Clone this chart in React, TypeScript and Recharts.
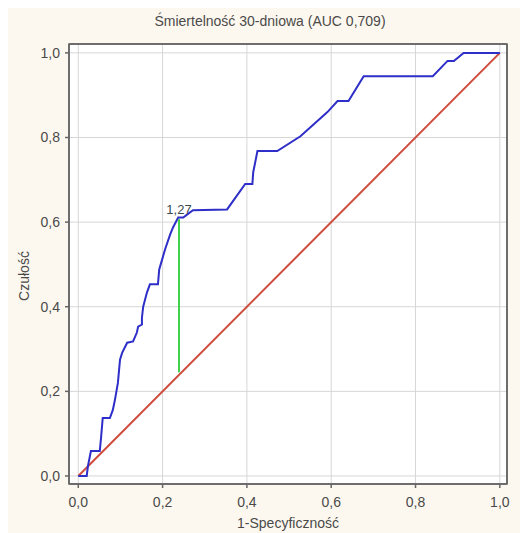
import React from "react";
import {
  LineChart,
  Line,
  XAxis,
  YAxis,
  CartesianGrid,
  ReferenceDot,
  ReferenceArea,
} from "recharts";

// ROC curve points (1-specificity, sensitivity)
const rocFpr = [
  0, 0.02, 0.023, 0.03, 0.051, 0.054, 0.058, 0.075, 0.082, 0.087, 0.094, 0.099,
  0.104, 0.116, 0.13, 0.139, 0.142, 0.151, 0.151, 0.154, 0.163, 0.17, 0.189,
  0.192, 0.199, 0.206, 0.218, 0.225, 0.237, 0.249, 0.272, 0.353, 0.396, 0.413,
  0.415, 0.425, 0.472, 0.527, 0.591, 0.615, 0.641, 0.677, 0.841, 0.876, 0.891,
  0.914, 1.0,
];
const rocTpr = [
  0, 0, 0.024, 0.059, 0.059, 0.09, 0.137, 0.137, 0.156, 0.18, 0.22, 0.275,
  0.291, 0.315, 0.318, 0.339, 0.353, 0.358, 0.374, 0.4, 0.434, 0.453, 0.453,
  0.488, 0.512, 0.536, 0.571, 0.588, 0.611, 0.611, 0.628, 0.63, 0.69, 0.69,
  0.718, 0.768, 0.768, 0.803, 0.86, 0.886, 0.886, 0.945, 0.945, 0.981, 0.981,
  1.0, 1.0,
];

// reference diagonal
const diagX = [0, 1];
const diagY = [0, 1];

// optimal cut-off (Youden) marker
const cutoffX = 0.239;
const cutoffYLow = 0.245;
const cutoffYHigh = 0.607;
const cutoffLabel = "1,27";

const majorTicks = [0, 0.2, 0.4, 0.6, 0.8, 1.0];
const minorTicks = [0, 0.1, 0.2, 0.3, 0.4, 0.5, 0.6, 0.7, 0.8, 0.9, 1.0];

const titleText = "Śmiertelność 30-dniowa (AUC 0,709)";
const xTitle = "1-Specyficzność";
const yTitle = "Czułość";

const xDomain: [number, number] = [-0.022, 1.017];
const yDomain: [number, number] = [-0.019, 1.021];

const rocData = rocFpr.map((x, i) => ({ x, y: rocTpr[i] }));
const diagData = diagX.map((x, i) => ({ x, y: diagY[i] }));
const cutoffData = [
  { x: cutoffX, y: cutoffYLow },
  { x: cutoffX, y: cutoffYHigh },
];

const fmt = (v: number) => v.toFixed(1).replace(".", ",");
const FONT = "'Liberation Sans', Arial, sans-serif";
const TXT = "#4a4a4a";
const FRAME = "#666666";

export default function App() {
  return (
    <div
      style={{
        position: "relative",
        width: 512,
        height: 525,
        background: "#fdf8ef",
        fontFamily: FONT,
        overflow: "hidden",
      }}
    >
      <LineChart
        width={512}
        height={525}
        margin={{ top: 36, right: 13, bottom: 0, left: 0 }}
      >
        <CartesianGrid stroke="#d6d6d6" fill="#ffffff" />
        <XAxis
          type="number"
          dataKey="x"
          domain={xDomain}
          ticks={majorTicks}
          allowDataOverflow
          tickFormatter={fmt}
          height={49}
          tickSize={4}
          tickMargin={9}
          stroke={FRAME}
          strokeWidth={1.5}
          tick={{ fill: TXT, fontSize: 14, fontFamily: FONT }}
        />
        <XAxis
          xAxisId="top"
          orientation="top"
          type="number"
          dataKey="x"
          domain={xDomain}
          ticks={minorTicks}
          allowDataOverflow
          tick={false}
          mirror
          height={1}
          tickSize={3}
          stroke={FRAME}
          strokeWidth={1.5}
        />
        <YAxis
          type="number"
          dataKey="y"
          domain={yDomain}
          ticks={majorTicks}
          allowDataOverflow
          tickFormatter={fmt}
          width={61}
          tickSize={4}
          tickMargin={5}
          stroke={FRAME}
          strokeWidth={1.5}
          tick={{ fill: TXT, fontSize: 14, fontFamily: FONT }}
        />
        <YAxis
          yAxisId="right"
          orientation="right"
          type="number"
          dataKey="y"
          domain={yDomain}
          ticks={minorTicks}
          allowDataOverflow
          tick={false}
          mirror
          width={1}
          tickSize={3}
          stroke={FRAME}
          strokeWidth={1.5}
        />
        <ReferenceArea
          x1={xDomain[0]}
          x2={xDomain[1]}
          y1={yDomain[0]}
          y2={yDomain[1]}
          fill="none"
          fillOpacity={0}
          stroke={FRAME}
          strokeWidth={1.5}
          ifOverflow="extendDomain"
        />
        <Line
          data={diagData}
          dataKey="y"
          type="linear"
          stroke="#cf4b3c"
          strokeWidth={2}
          dot={false}
          isAnimationActive={false}
        />
        <Line
          data={rocData}
          dataKey="y"
          type="linear"
          stroke="#2e2ec8"
          strokeWidth={2}
          dot={false}
          isAnimationActive={false}
        />
        <Line
          data={cutoffData}
          dataKey="y"
          type="linear"
          stroke="#3fd24a"
          strokeWidth={2}
          dot={false}
          isAnimationActive={false}
        />
        <ReferenceDot
          x={cutoffX}
          y={0.611}
          r={0}
          fill="none"
          stroke="none"
          label={{
            value: cutoffLabel,
            position: "top",
            offset: 3,
            fill: "#3c4a50",
            fontSize: 13,
            fontFamily: FONT,
          }}
        />
      </LineChart>
      <div
        style={{
          position: "absolute",
          left: 262,
          top: 5,
          transform: "translateX(-50%)",
          whiteSpace: "nowrap",
          fontSize: 14,
          lineHeight: "16px",
          color: TXT,
        }}
      >
        {titleText}
      </div>
      <div
        style={{
          position: "absolute",
          left: 280,
          top: 507,
          transform: "translateX(-50%)",
          whiteSpace: "nowrap",
          fontSize: 14,
          lineHeight: "16px",
          color: TXT,
        }}
      >
        {xTitle}
      </div>
      <div
        style={{
          position: "absolute",
          left: 16,
          top: 268,
          transform: "translate(-50%, -50%) rotate(-90deg)",
          whiteSpace: "nowrap",
          fontSize: 14,
          lineHeight: "16px",
          color: TXT,
        }}
      >
        {yTitle}
      </div>
    </div>
  );
}
